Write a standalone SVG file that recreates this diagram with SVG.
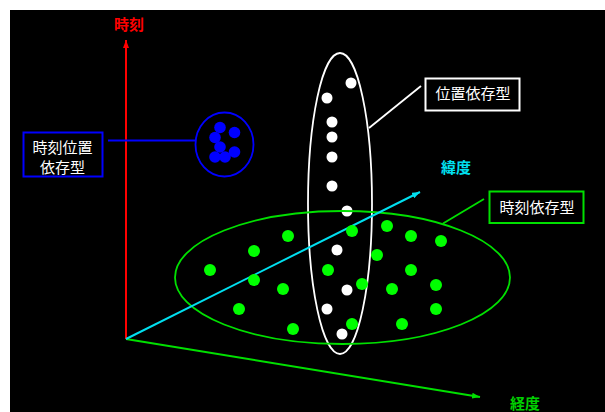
<svg xmlns="http://www.w3.org/2000/svg" width="605" height="412" viewBox="0 0 605 412">
<style>
text{font-family:"Noto Sans CJK JP","Noto Sans CJK SC",sans-serif;font-size:15px;text-anchor:middle}
.lbl{fill:#ffffff}
.ax{font-weight:bold}
.wd{fill:#ffffff}
.gd{fill:#00ff00}
.bd{fill:#0000ff}
</style>
<defs>
<marker id="arR" markerUnits="userSpaceOnUse" markerWidth="8" markerHeight="6" refX="8" refY="3" orient="auto"><path d="M0,0 L8,3 L0,6 z" fill="#ff0000"/></marker>
<marker id="arC" markerUnits="userSpaceOnUse" markerWidth="8" markerHeight="6" refX="8" refY="3" orient="auto"><path d="M0,0 L8,3 L0,6 z" fill="#00e0f0"/></marker>
<marker id="arG" markerUnits="userSpaceOnUse" markerWidth="8" markerHeight="6" refX="8" refY="3" orient="auto"><path d="M0,0 L8,3 L0,6 z" fill="#00e000"/></marker>
</defs>
<rect x="10" y="10" width="595" height="402" fill="#000000"/>

<g id="axis-time">
<line x1="126" y1="339" x2="126" y2="40" stroke="#ff0000" stroke-width="2" marker-end="url(#arR)"/>
<text class="ax" x="129" y="29.5" fill="#ff0000">時刻</text>
</g>
<g id="axis-lon">
<line x1="126" y1="339" x2="480" y2="397" stroke="#00e000" stroke-width="2" marker-end="url(#arG)"/>
<text class="ax" x="525" y="408.5" fill="#00d000">経度</text>
</g>

<g id="location-dependent">
<ellipse cx="340" cy="203.5" rx="32" ry="150.5" fill="none" stroke="#ffffff" stroke-width="1.8"/>
<circle class="wd" cx="351" cy="83" r="5.5"/>
<circle class="wd" cx="327" cy="98" r="5.5"/>
<circle class="wd" cx="332" cy="122" r="5.5"/>
<circle class="wd" cx="332" cy="137" r="5.5"/>
<circle class="wd" cx="332" cy="157" r="5.5"/>
<circle class="wd" cx="332" cy="186" r="5.5"/>
<circle class="wd" cx="347" cy="211" r="5.5"/>
<circle class="wd" cx="337" cy="250" r="5.5"/>
<circle class="wd" cx="347" cy="290" r="5.5"/>
<circle class="wd" cx="327" cy="309" r="5.5"/>
<circle class="wd" cx="342" cy="334" r="5.5"/>
</g>

<g id="time-dependent">
<ellipse cx="342.5" cy="277.5" rx="167.5" ry="66.5" fill="none" stroke="#00e000" stroke-width="1.8"/>
</g>

<g id="axis-lat">
<line x1="126" y1="339" x2="420" y2="192" stroke="#00e0f0" stroke-width="2" marker-end="url(#arC)"/>
<text class="ax" x="456" y="172.5" fill="#00e0f0">緯度</text>
</g>

<g id="time-dependent-points">
<circle class="gd" cx="210" cy="270" r="6"/>
<circle class="gd" cx="254" cy="251" r="6"/>
<circle class="gd" cx="288" cy="236" r="6"/>
<circle class="gd" cx="254" cy="280" r="6"/>
<circle class="gd" cx="283" cy="289" r="6"/>
<circle class="gd" cx="239" cy="309" r="6"/>
<circle class="gd" cx="293" cy="329" r="6"/>
<circle class="gd" cx="328" cy="270" r="6"/>
<circle class="gd" cx="352" cy="231" r="6"/>
<circle class="gd" cx="362" cy="284" r="6"/>
<circle class="gd" cx="352" cy="324" r="6"/>
<circle class="gd" cx="387" cy="226" r="6"/>
<circle class="gd" cx="411" cy="236" r="6"/>
<circle class="gd" cx="441" cy="241" r="6"/>
<circle class="gd" cx="377" cy="255" r="6"/>
<circle class="gd" cx="411" cy="270" r="6"/>
<circle class="gd" cx="392" cy="289" r="6"/>
<circle class="gd" cx="436" cy="285" r="6"/>
<circle class="gd" cx="436" cy="309" r="6"/>
<circle class="gd" cx="402" cy="324" r="6"/>
</g>

<g id="time-location-dependent">
<ellipse cx="224.5" cy="144.5" rx="29" ry="32" fill="none" stroke="#0000ff" stroke-width="1.8"/>
<circle class="bd" cx="220" cy="127.5" r="5.8"/>
<circle class="bd" cx="234.5" cy="132.5" r="5.8"/>
<circle class="bd" cx="215" cy="137.5" r="5.8"/>
<circle class="bd" cx="220" cy="147" r="5.8"/>
<circle class="bd" cx="234.5" cy="152" r="5.8"/>
<circle class="bd" cx="215" cy="157" r="5.8"/>
<circle class="bd" cx="225" cy="157" r="5.8"/>
</g>

<g id="connectors">
<line x1="108" y1="140.5" x2="195.5" y2="140.5" stroke="#0000ff" stroke-width="1.8"/>
<line x1="369" y1="128" x2="421" y2="86" stroke="#ffffff" stroke-width="1.8"/>
<line x1="443" y1="223.5" x2="484" y2="199" stroke="#00e000" stroke-width="1.8"/>
</g>

<g id="label-time-location">
<rect x="23.5" y="132.5" width="79" height="44" fill="#000000" stroke="#0000ff" stroke-width="2"/>
<text class="lbl" x="62.5" y="152.5">時刻位置</text>
<text class="lbl" x="62.5" y="172.5">依存型</text>
</g>
<g id="label-location">
<rect x="425.5" y="78.5" width="94" height="32" fill="#000000" stroke="#ffffff" stroke-width="2"/>
<text class="lbl" x="473" y="99">位置依存型</text>
</g>
<g id="label-time">
<rect x="489.5" y="191.5" width="94" height="31.5" fill="#000000" stroke="#00e000" stroke-width="2"/>
<text class="lbl" x="537" y="212.5">時刻依存型</text>
</g>
</svg>
